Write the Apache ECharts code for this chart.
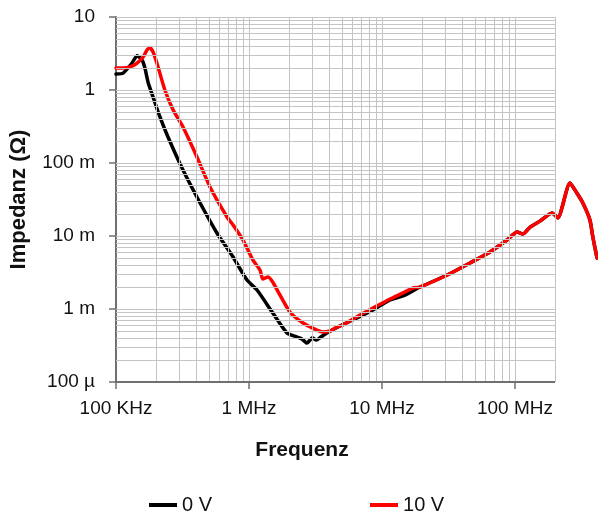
<!DOCTYPE html>
<html>
<head>
<meta charset="utf-8">
<script src="https://cdn.jsdelivr.net/npm/echarts@6/dist/echarts.min.js"></script>
<style>
  html, body { margin: 0; padding: 0; background: #fff; }
  #chart { width: 598px; height: 522px; }
</style>
</head>
<body>
<div id="chart"></div>
<script>
// frequency (Hz) and impedance (Ohm), 0 V
var freq0 = [1.0e5, 1.13e5, 1.32e5, 1.44e5, 1.57e5, 1.65e5, 1.74e5, 1.90e5, 2.14e5, 2.46e5, 3.19e5, 4.29e5,
    5.74e5, 7.59e5, 9.66e5, 1.15e6, 1.51e6, 1.93e6, 2.30e6, 2.50e6, 2.73e6, 3.0e6, 3.2e6, 3.45e6, 3.85e6,
    4.83e6, 6.49e6, 8.55e6, 1.15e7, 1.44e7, 1.93e7, 2.98e7, 4.59e7, 6.49e7, 8.71e7, 1.04e8, 1.15e8, 1.30e8,
    1.54e8, 1.90e8, 2.10e8, 2.59e8, 2.92e8, 3.24e8, 3.66e8, 3.85e8, 4.14e8];
var imp0 = [1.65, 1.70, 2.34, 2.95, 2.58, 2.0, 1.29, 0.80, 0.427, 0.227, 0.080, 0.0283,
    0.0110, 0.00515, 0.00249, 0.00182, 0.000881, 0.000469, 0.000413, 0.000388, 0.000342, 0.000405, 0.000375, 0.000410, 0.000469,
    0.000585, 0.000754, 0.000968, 0.00133, 0.00151, 0.00200, 0.00283, 0.00427, 0.00604, 0.00881, 0.01135, 0.01064, 0.01327,
    0.0160, 0.0207, 0.0177, 0.0532, 0.0388, 0.0283, 0.0166, 0.00968, 0.00500];

// 10 V
var freq10 = [1.0e5, 1.13e5, 1.32e5, 1.44e5, 1.60e5, 1.71e5, 1.80e5, 1.90e5, 2.03e5, 2.33e5, 2.69e5, 3.19e5,
    4.06e5, 5.09e5, 6.84e5, 7.59e5, 9.02e5, 1.07e6, 1.21e6, 1.27e6, 1.39e6, 1.49e6, 1.63e6, 2.03e6, 2.55e6,
    3.24e6, 3.60e6, 4.06e6, 4.59e6, 5.09e6, 6.84e6, 8.55e6, 1.15e7, 1.44e7, 1.71e7, 1.93e7, 2.98e7, 4.59e7,
    6.49e7, 8.71e7, 1.04e8, 1.15e8, 1.30e8, 1.54e8, 1.90e8, 2.10e8, 2.59e8, 2.92e8, 3.24e8, 3.66e8, 3.85e8, 4.14e8];
var imp10 = [2.00, 2.00, 2.13, 2.34, 2.83, 3.53, 3.76, 3.32, 2.34, 1.00, 0.532, 0.311,
    0.121, 0.0469, 0.0182, 0.0142, 0.00881, 0.00469, 0.00342, 0.00258, 0.00274, 0.00242, 0.00182, 0.000910, 0.000643,
    0.000515, 0.000484, 0.000500, 0.000566, 0.000604, 0.000828, 0.00103, 0.00137, 0.00166, 0.00194, 0.00200, 0.00283, 0.00427,
    0.00604, 0.00881, 0.01135, 0.01064, 0.01327, 0.0160, 0.0207, 0.0177, 0.0532, 0.0388, 0.0283, 0.0166, 0.00968, 0.00500];

var xTicks = [1e5, 1e6, 1e7, 1e8];
var xTickLabels = ['100 KHz', '1 MHz', '10 MHz', '100 MHz'];
var yTicks = [1e-4, 1e-3, 1e-2, 1e-1, 1, 10];
var yTickLabels = ['100 µ', '1 m', '10 m', '100 m', '1', '10'];
var minorSteps = [2, 3, 4, 5, 6, 7, 8, 9];
var xFrameMin = 1e5, xFrameMax = 2e8;   // grid frame ends at 200 MHz, curve runs past it
var xAxisMax = 4.21e8;

var font = "'Liberation Sans', Arial, sans-serif";
var gridColor = '#c4c4c4';
var axisColor = '#707070';

function pairs(xs, ys) {
    return xs.map(function (x, i) { return [x, ys[i]]; });
}
function decadeIndex(v, list) {
    var e = Math.round(Math.log10(v));
    for (var i = 0; i < list.length; i++) {
        if (Math.round(Math.log10(list[i])) === e) return i;
    }
    return -1;
}
function hLine(y, color, width) {
    return [
        { coord: [xFrameMin, y], lineStyle: { color: color, width: width } },
        { coord: [xFrameMax, y] }
    ];
}

// grid lines inside the 100 KHz .. 200 MHz frame
var gridLines = [];
xTicks.slice(0, 3).forEach(function (d) {
    minorSteps.forEach(function (m) { gridLines.push({ xAxis: d * m }); });
});
gridLines.push({ xAxis: xFrameMax });
yTicks.forEach(function (d, k) {
    if (k > 0) gridLines.push(hLine(d, gridColor, 1));
    if (k < yTicks.length - 1) {
        minorSteps.forEach(function (m) { gridLines.push(hLine(d * m, gridColor, 1)); });
    }
});
// bottom axis line, only as wide as the frame
gridLines.push(hLine(yTicks[0], axisColor, 2));

var chart = echarts.init(document.getElementById('chart'));
var option = {
    animation: false,
    textStyle: { fontFamily: font },
    grid: { left: 116, right: 0, top: 17, bottom: 140 },
    legend: {
        bottom: 2,
        left: 144,
        itemGap: 158,
        itemWidth: 28,
        itemHeight: 4,
        icon: 'rect',
        textStyle: { fontFamily: font, fontSize: 20, color: '#111' },
        data: ['0 V', '10 V']
    },
    xAxis: {
        type: 'log',
        logBase: 10,
        min: 1e5,
        max: xAxisMax,
        name: 'Frequenz',
        nameLocation: 'middle',
        nameGap: 58,
        nameTextStyle: { fontFamily: font, fontSize: 21, fontWeight: 'bold', color: '#111', padding: [0, 110, 0, 0] },
        axisLine: { show: false },
        axisTick: { show: true, length: 7, lineStyle: { color: axisColor, width: 1.5 }, customValues: xTicks },
        axisLabel: {
            customValues: xTicks,
            fontFamily: font, fontSize: 19, color: '#111', margin: 17,
            formatter: function (v) {
                var i = decadeIndex(v, xTicks);
                return i < 0 ? '' : xTickLabels[i];
            }
        },
        splitLine: { show: true, lineStyle: { color: gridColor, width: 1 } }
    },
    yAxis: {
        type: 'log',
        logBase: 10,
        min: 1e-4,
        max: 10,
        name: 'Impedanz (Ω)',
        nameLocation: 'middle',
        nameGap: 86,
        nameRotate: 90,
        nameTextStyle: { fontFamily: font, fontSize: 22, fontWeight: 'bold', color: '#111' },
        axisLine: { show: true, lineStyle: { color: axisColor, width: 2 } },
        axisTick: { show: true, length: 7, lineStyle: { color: axisColor, width: 1.5 } },
        axisLabel: {
            fontFamily: font, fontSize: 19, color: '#111', margin: 21,
            formatter: function (v) {
                var i = decadeIndex(v, yTicks);
                return i < 0 ? '' : yTickLabels[i];
            }
        },
        splitLine: { show: false }
    },
    series: [
        {
            name: 'grid',
            type: 'line',
            data: [],
            z: 1,
            silent: true,
            markLine: {
                silent: true,
                symbol: 'none',
                label: { show: false },
                lineStyle: { color: gridColor, width: 1, type: 'solid' },
                data: gridLines
            }
        },
        {
            name: '0 V',
            type: 'line',
            data: pairs(freq0, imp0),
            showSymbol: false,
            smooth: 0.2,
            clip: false,
            z: 3,
            itemStyle: { color: '#000000' },
            lineStyle: { color: '#000000', width: 3.5, join: 'round', cap: 'round' }
        },
        {
            name: '10 V',
            type: 'line',
            data: pairs(freq10, imp10),
            showSymbol: false,
            smooth: 0.2,
            clip: false,
            z: 4,
            itemStyle: { color: '#ff0000' },
            lineStyle: { color: '#ff0000', width: 3.5, join: 'round', cap: 'round' }
        }
    ]
};
chart.setOption(option);
</script>
</body>
</html>
